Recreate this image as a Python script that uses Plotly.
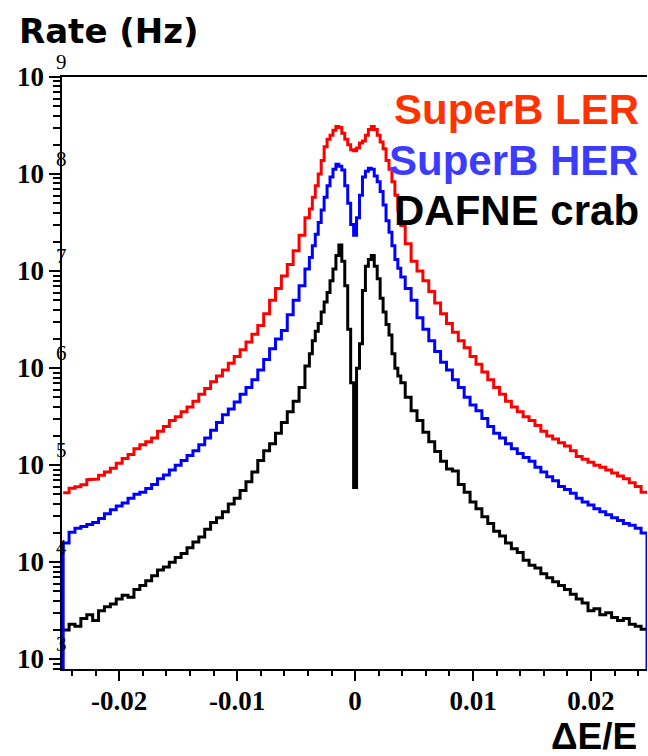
import numpy as np
import plotly.graph_objects as go

# Bin centres of the ΔE/E histograms: 0.0005 wide in the tails, 0.00025 in the core
de_left = np.round(np.arange(-0.0245, -0.0044, 0.0005), 5)
de_core = np.round(np.arange(-0.004, 0.00401, 0.00025), 5)
de_right = np.round(np.arange(0.0045, 0.02451, 0.0005), 5)
de_centres = np.concatenate([de_left, de_core, de_right])

# Rates per bin (Hz)
rate_ler = [
    5.2e4, 5.8e4, 6.0e4, 6.3e4, 7.1e4, 7.2e4, 7.9e4, 8.5e4, 9.3e4, 1.05e5,
    1.17e5, 1.29e5, 1.48e5, 1.62e5, 1.74e5, 1.91e5, 2.24e5, 2.51e5, 2.88e5, 3.16e5,
    3.55e5, 3.98e5, 4.57e5, 5.37e5, 6.17e5, 7.24e5, 8.32e5, 9.55e5, 1.12e6, 1.32e6,
    1.55e6, 1.86e6, 2.24e6, 2.75e6, 3.63e6, 5.01e6, 6.61e6, 8.91e6, 1.17e7, 1.62e7,
    2.34e7,
    3.55e7, 4.37e7, 5.75e7, 7.59e7, 1.00e8, 1.38e8, 1.91e8, 2.29e8, 2.51e8, 2.82e8,
    3.09e8, 3.02e8, 2.63e8, 2.29e8, 2.00e8, 1.78e8, 1.74e8, 1.86e8, 2.09e8, 2.19e8,
    2.51e8, 2.88e8, 3.09e8, 2.88e8, 2.51e8, 2.14e8, 1.82e8, 1.38e8, 1.12e8, 8.32e7,
    6.03e7, 4.27e7, 2.95e7,
    1.91e7, 1.26e7, 1.00e7, 7.94e6, 6.17e6, 4.68e6, 3.63e6, 2.88e6, 2.34e6, 1.91e6,
    1.62e6, 1.32e6, 1.10e6, 9.12e5, 7.59e5, 6.31e5, 5.37e5, 4.57e5, 3.98e5, 3.55e5,
    3.16e5, 2.88e5, 2.57e5, 2.24e5, 2.00e5, 1.86e5, 1.70e5, 1.58e5, 1.41e5, 1.23e5,
    1.15e5, 1.07e5, 1.00e5, 9.55e4, 8.91e4, 8.32e4, 7.76e4, 7.24e4, 6.61e4, 6.03e4,
    5.25e4,
]

rate_her = [
    1.58e4, 2.04e4, 2.24e4, 2.34e4, 2.45e4, 2.57e4, 2.82e4, 3.16e4, 3.47e4, 3.80e4,
    4.07e4, 4.57e4, 5.01e4, 5.25e4, 5.75e4, 6.31e4, 7.24e4, 7.94e4, 8.91e4, 1.00e5,
    1.12e5, 1.26e5, 1.41e5, 1.62e5, 1.91e5, 2.29e5, 2.75e5, 3.31e5, 3.80e5, 4.47e5,
    5.37e5, 6.31e5, 7.59e5, 9.55e5, 1.23e6, 1.58e6, 2.00e6, 2.45e6, 3.55e6, 5.01e6,
    7.08e6,
    1.05e7, 1.38e7, 1.82e7, 2.40e7, 3.16e7, 4.27e7, 5.75e7, 7.59e7, 9.33e7, 1.12e8,
    1.26e8, 1.20e8, 1.10e8, 7.59e7, 5.01e7, 3.02e7, 2.34e7, 3.55e7, 6.03e7, 9.33e7,
    1.07e8, 1.15e8, 1.12e8, 9.55e7, 8.32e7, 6.61e7, 4.79e7, 3.31e7, 2.51e7, 1.82e7,
    1.32e7, 1.07e7, 8.71e6,
    6.61e6, 5.01e6, 3.31e6, 2.51e6, 1.91e6, 1.48e6, 1.15e6, 9.55e5, 7.59e5, 6.31e5,
    5.01e5, 4.17e5, 3.63e5, 3.02e5, 2.51e5, 2.14e5, 1.91e5, 1.66e5, 1.48e5, 1.32e5,
    1.20e5, 1.10e5, 9.55e4, 8.51e4, 7.59e4, 6.92e4, 6.03e4, 5.62e4, 5.13e4, 4.57e4,
    4.17e4, 3.89e4, 3.55e4, 3.31e4, 3.09e4, 2.88e4, 2.69e4, 2.51e4, 2.40e4, 2.24e4,
    2.00e4,
]

rate_dafne = [
    2.00e3, 2.29e3, 2.19e3, 2.63e3, 2.88e3, 2.51e3, 3.16e3, 3.47e3, 3.72e3, 4.17e3,
    4.57e3, 4.37e3, 5.25e3, 5.75e3, 6.46e3, 7.24e3, 8.32e3, 8.91e3, 1.00e4, 1.12e4,
    1.23e4, 1.41e4, 1.62e4, 1.82e4, 2.19e4, 2.57e4, 2.88e4, 3.31e4, 3.98e4, 4.57e4,
    5.50e4, 6.76e4, 8.51e4, 1.12e5, 1.41e5, 1.66e5, 2.14e5, 2.75e5, 3.55e5, 4.57e5,
    6.31e5,
    1.05e6, 1.41e6, 1.91e6, 2.40e6, 2.88e6, 3.80e6, 4.79e6, 6.03e6, 7.94e6, 1.05e7,
    1.45e7, 1.86e7, 1.26e7, 7.08e6, 2.51e6, 7.08e5, 5.89e4, 1.00e6, 1.78e6, 6.31e6,
    1.12e7, 1.32e7, 1.45e7, 1.12e7, 8.32e6, 5.25e6, 3.80e6, 2.82e6, 2.19e6, 1.41e6,
    1.00e6, 8.32e5, 7.08e5,
    5.01e5, 3.63e5, 2.88e5, 2.19e5, 1.74e5, 1.38e5, 1.10e5, 9.12e4, 8.71e4, 6.31e4,
    5.25e4, 4.17e4, 3.55e4, 2.95e4, 2.51e4, 2.09e4, 1.86e4, 1.58e4, 1.38e4, 1.26e4,
    1.05e4, 9.33e3, 8.71e3, 7.59e3, 6.92e3, 6.31e3, 5.75e3, 5.25e3, 4.68e3, 4.17e3,
    3.80e3, 3.16e3, 3.31e3, 2.88e3, 3.02e3, 2.69e3, 2.51e3, 2.63e3, 2.29e3, 2.19e3,
    2.04e3,
]

series_names = ["SuperB LER", "SuperB HER", "DAFNE crab"]
x_tick_vals = [-0.02, -0.01, 0.0, 0.01, 0.02]
x_tick_text = ["-0.02", "-0.01", "0", "0.01", "0.02"]
y_exponents = [3, 4, 5, 6, 7, 8, 9]

for r in (rate_ler, rate_her, rate_dafne):
    assert len(r) == len(de_centres)


def outline(centres, rates, close=False, floor=1.0):
    """Step outline of a histogram given its bin centres."""
    c = np.asarray(centres, dtype=float)
    mids = (c[:-1] + c[1:]) / 2
    edges = np.concatenate([[c[0] - (c[1] - c[0]) / 2], mids,
                            [c[-1] + (c[-1] - c[-2]) / 2]])
    xs, ys = [], []
    if close:
        xs.append(edges[0]); ys.append(floor)
    for i, r in enumerate(rates):
        xs += [edges[i], edges[i + 1]]
        ys += [r, r]
    if close:
        xs.append(edges[-1]); ys.append(floor)
    return xs, ys


fig = go.Figure()
line_styles = [
    (series_names[0], rate_ler, "#ff0000", False),
    (series_names[2], rate_dafne, "#000000", False),
    (series_names[1], rate_her, "#0000ff", True),
]
for name, rates, colour, close in line_styles:
    xs, ys = outline(de_centres, rates, close)
    fig.add_trace(go.Scatter(x=xs, y=ys, mode="lines", name=name,
                             line=dict(color=colour, width=3),
                             showlegend=False, hoverinfo="skip"))

L, R, T, B = 62, 1, 77, 87
W, H = 648, 756
pw, ph = W - L - R, H - T - B


def px_x(X):
    return (X - L) / pw


def px_y(Y):
    return (H - B - Y) / ph


fig.update_xaxes(
    range=[-0.02485, 0.02475], showline=True, linecolor="black", linewidth=2,
    mirror=True, showgrid=False, zeroline=False,
    tickmode="array", tickvals=x_tick_vals, ticktext=x_tick_text,
    ticks="outside", ticklen=10, tickwidth=1.5, tickcolor="black",
    ticklabelstandoff=-3,
    tickfont=dict(family="Liberation Serif", size=27, color="black", weight="bold"),
    minor=dict(dtick=0.002, tick0=0, ticks="outside", ticklen=5,
               tickwidth=1.5, tickcolor="black", showgrid=False),
)

minor_vals = [k * 10.0 ** d for d in range(2, 9) for k in range(2, 10)]
fig.update_yaxes(
    type="log", range=[2.90, 9.0], showline=True, linecolor="black", linewidth=2,
    showgrid=False, zeroline=False,
    tickmode="array", tickvals=[10.0 ** e for e in y_exponents],
    ticks="outside", ticklen=11, tickwidth=1.5, tickcolor="black",
    showticklabels=False,
    minor=dict(tickmode="array", tickvals=minor_vals, ticks="outside",
               ticklen=7, tickwidth=1.5, tickcolor="black", showgrid=False),
)

annotations = []
for e in y_exponents:
    annotations.append(dict(
        x=px_x(46), y=e, xref="paper", yref="y", text="<b>10</b>",
        xanchor="right", yanchor="middle", showarrow=False,
        font=dict(family="Liberation Serif", size=27, color="black")))
    annotations.append(dict(
        x=px_x(54), y=e, xref="paper", yref="y", text=str(e), yshift=15,
        xanchor="left", yanchor="middle", showarrow=False,
        font=dict(family="Liberation Serif", size=21, color="black")))

annotations.append(dict(
    x=px_x(17), y=px_y(31), xref="paper", yref="paper", text="<b>Rate (Hz)</b>",
    xanchor="left", yanchor="middle", showarrow=False,
    font=dict(family="DejaVu Sans", size=34, color="black")))

legend_colours = ["#ff3300", "#3c3cff", "#000000"]
legend_y = [110, 160, 210]
for name, colour, yy in zip(series_names, legend_colours, legend_y):
    annotations.append(dict(
        x=px_x(641), y=px_y(yy), xref="paper", yref="paper", text=f"<b>{name}</b>",
        xanchor="right", yanchor="middle", showarrow=False,
        font=dict(family="Liberation Sans", size=42, color=colour)))

annotations.append(dict(
    x=px_x(639), y=px_y(736), xref="paper", yref="paper", text="<b>ΔE/E</b>",
    xanchor="right", yanchor="middle", showarrow=False,
    font=dict(family="Liberation Sans", size=37, color="black")))

fig.update_layout(
    width=W, height=H, margin=dict(l=L, r=R, t=T, b=B, pad=0),
    paper_bgcolor="white", plot_bgcolor="white",
    annotations=annotations, showlegend=False,
)

fig.write_html("out.html")
